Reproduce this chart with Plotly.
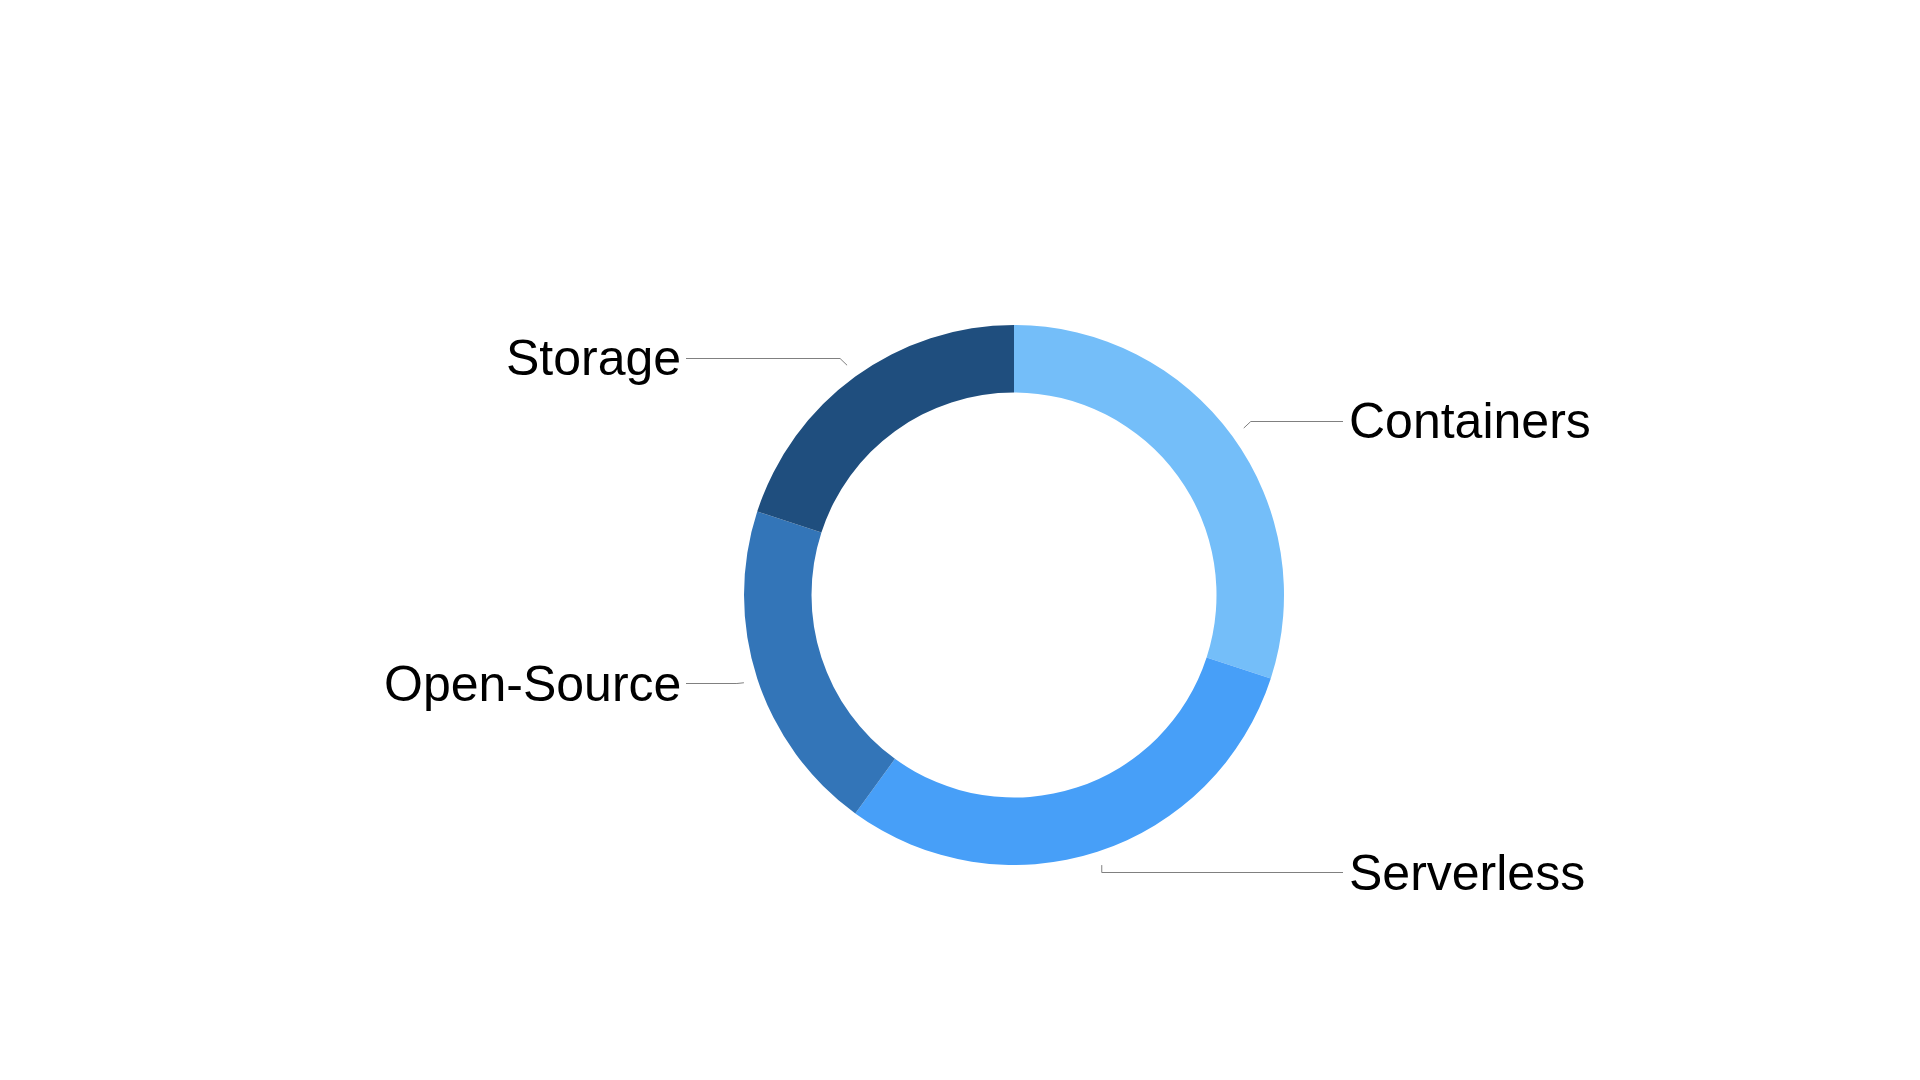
import math
import plotly.graph_objects as go

categories = ["Containers", "Serverless", "Open-Source", "Storage"]
values = [30, 30, 20, 20]
colors = ["#74BEF9", "#479FF8", "#3375B8", "#1F4E7E"]

W, H = 1920, 1080
CX, CY = 1014, 595      # pie centre in pixels
R = 270                 # outer radius in pixels
HOLE = 0.75
LABEL_EDGE_RIGHT = 1343
LABEL_EDGE_LEFT = 686
FONT = dict(family="Liberation Sans, Arial, Helvetica, sans-serif", size=50, color="#000000")

fig = go.Figure()
fig.add_trace(go.Pie(
    labels=categories,
    values=values,
    marker=dict(colors=colors, line=dict(width=0)),
    hole=HOLE,
    sort=False,
    direction="clockwise",
    rotation=0,
    textinfo="none",
    hoverinfo="skip",
    showlegend=False,
    domain=dict(x=[(CX - R) / W, (CX + R) / W], y=[(H - CY - R) / H, (H - CY + R) / H]),
))

def px(x):
    return x / W

def py(y):
    return 1 - y / H

def step(u):
    return 7 * (1 if u > 0 else -1) if abs(u) > 0.5 else 0

total = sum(values)
cum = 0
shapes = []
annotations = []
for name, v in zip(categories, values):
    mid = (cum + v / 2) / total * 2 * math.pi
    cum += v
    ux, uy = math.sin(mid), -math.cos(mid)
    x1, y1 = CX + (R + 14) * ux, CY + (R + 14) * uy
    x2, y2 = x1 + step(ux), y1 + step(uy)
    y2 = round(y2) + 0.5
    right = ux >= 0
    x3 = LABEL_EDGE_RIGHT if right else LABEL_EDGE_LEFT
    path = f"M {px(x1)} {py(y1)} L {px(x2)} {py(y2)} L {px(x3)} {py(y2)}"
    shapes.append(dict(type="path", xref="paper", yref="paper", path=path,
                       line=dict(color="#808080", width=1)))
    annotations.append(dict(
        x=px(x3 + (4 if right else -3)), y=py(y2), xref="paper", yref="paper",
        text=name, showarrow=False, font=FONT,
        xanchor="left" if right else "right", yanchor="middle",
    ))

fig.update_layout(
    width=W, height=H, autosize=False,
    margin=dict(l=0, r=0, t=0, b=0),
    paper_bgcolor="#FFFFFF", plot_bgcolor="#FFFFFF",
    shapes=shapes, annotations=annotations,
    showlegend=False,
)

fig.write_html("out.html")
